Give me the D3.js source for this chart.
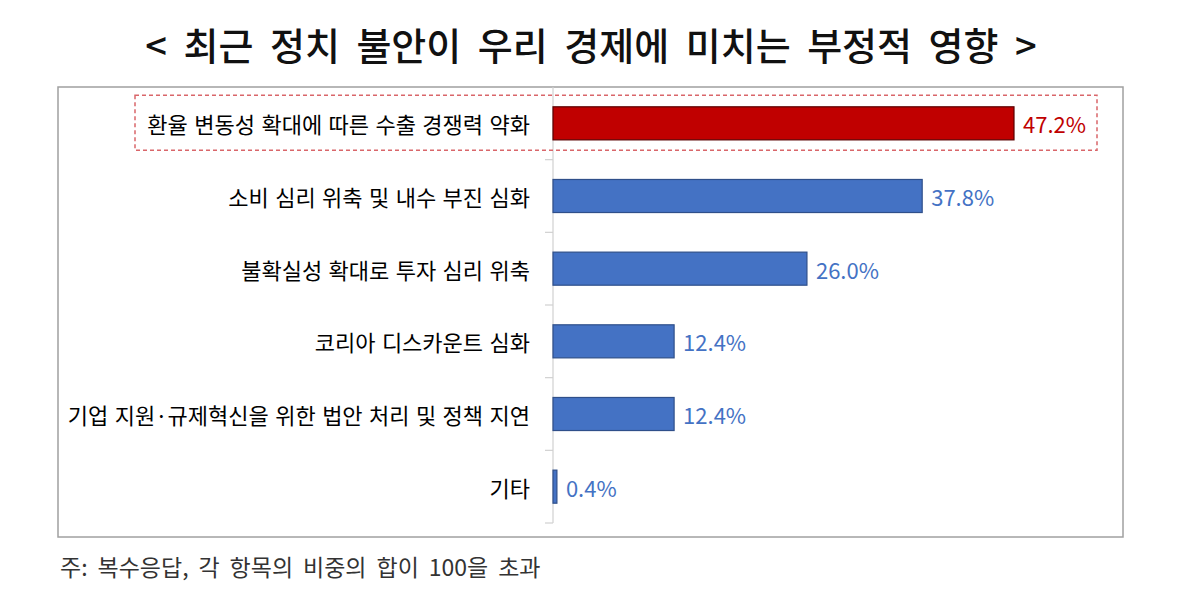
<!DOCTYPE html>
<html><head><meta charset="utf-8">
<script src="https://cdn.jsdelivr.net/npm/d3@7/dist/d3.min.js"></script>
<style>
html,body{margin:0;padding:0;background:#fff;}
svg{display:block;font-family:"Noto Sans CJK KR","Noto Sans",sans-serif;}
</style></head>
<body>
<svg id="chart" width="1178" height="596"></svg>
<script>
const title = "< 최근 정치 불안이 우리 경제에 미치는 부정적 영향 >";
const categories = [
  "환율 변동성 확대에 따른 수출 경쟁력 약화",
  "소비 심리 위축 및 내수 부진 심화",
  "불확실성 확대로 투자 심리 위축",
  "코리아 디스카운트 심화",
  "기업 지원·규제혁신을 위한 법안 처리 및 정책 지연",
  "기타"
];
const values = [47.2, 37.8, 26.0, 12.4, 12.4, 0.4];
const valueLabels = ["47.2%", "37.8%", "26.0%", "12.4%", "12.4%", "0.4%"];
const highlight = [true, false, false, false, false, false];
const footnote = "주: 복수응답, 각 항목의 비중의 합이 100을 초과";

const svg = d3.select("#chart");

// frame
svg.append("rect").attr("x", 58).attr("y", 87).attr("width", 1065).attr("height", 450)
  .attr("fill", "none").attr("stroke", "#a0a0a0").attr("stroke-width", 1.5);

// title
svg.append("text").attr("x", 591).attr("y", 43).attr("text-anchor", "middle")
  .attr("dominant-baseline", "central").attr("font-size", 38).attr("font-weight", 500)
  .attr("word-spacing", 8)
  .attr("fill", "#111").text(title);

const y = d3.scaleBand().domain(categories).range([87, 523]).padding(0);
const x = d3.scaleLinear().domain([0, 47.2]).range([553, 1014]);
const barH = y.bandwidth() * 0.455;

// axis line + boundary ticks
const axisG = svg.append("g");
axisG.append("line").attr("x1", 553).attr("x2", 553).attr("y1", 87).attr("y2", 523)
  .attr("stroke", "#d0d0d0").attr("stroke-width", 1.2);
const bounds = categories.map(c => y(c)).concat([y(categories[categories.length - 1]) + y.bandwidth()]);
axisG.selectAll("line.tick").data(bounds.slice(1)).enter().append("line")
  .attr("class", "tick").attr("x1", 545).attr("x2", 553)
  .attr("y1", d => d).attr("y2", d => d).attr("stroke", "#d0d0d0").attr("stroke-width", 1.2);

// highlight dashed box
categories.forEach((c, i) => {
  if (!highlight[i]) return;
  const cy = y(c) + y.bandwidth() / 2;
  svg.append("rect").attr("x", 135).attr("y", cy - 28).attr("width", 962).attr("height", 55)
    .attr("fill", "none").attr("stroke", "#d9666a").attr("stroke-width", 1.5)
    .attr("stroke-dasharray", "4,3");
});

// bars
svg.selectAll("rect.bar").data(values).enter().append("rect").attr("class", "bar")
  .attr("x", x(0))
  .attr("y", (d, i) => y(categories[i]) + (y.bandwidth() - barH) / 2)
  .attr("width", d => x(d) - x(0))
  .attr("height", barH)
  .attr("fill", (d, i) => highlight[i] ? "#c00000" : "#4472c4")
  .attr("stroke", (d, i) => highlight[i] ? "#5a0000" : "#2f4f8a")
  .attr("stroke-width", 1.2);

// category labels
svg.selectAll("text.cat").data(categories).enter().append("text").attr("class", "cat")
  .attr("x", 530).attr("y", d => y(d) + y.bandwidth() / 2)
  .attr("text-anchor", "end").attr("dominant-baseline", "central")
  .attr("font-size", 22).attr("word-spacing", 1.5).attr("fill", "#000").text(d => d);

// value labels
svg.selectAll("text.val").data(values).enter().append("text").attr("class", "val")
  .attr("x", d => x(d) + 9)
  .attr("y", (d, i) => y(categories[i]) + y.bandwidth() / 2)
  .attr("dominant-baseline", "central").attr("font-size", 22)
  .attr("fill", (d, i) => highlight[i] ? "#c00000" : "#4472c4")
  .text((d, i) => valueLabels[i]);

// footnote
svg.append("text").attr("x", 60).attr("y", 566).attr("dominant-baseline", "central")
  .attr("font-size", 23).attr("fill", "#333").attr("word-spacing", 4.8).text(footnote);
</script>
</body></html>
